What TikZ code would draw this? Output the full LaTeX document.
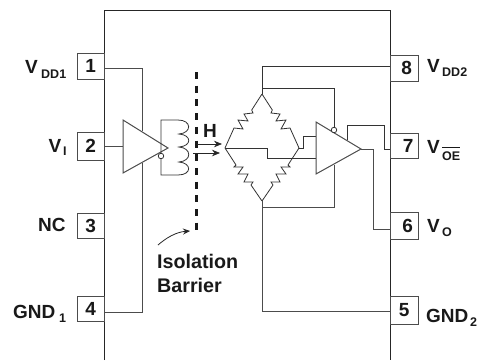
\documentclass[tikz,border=0pt]{standalone}
\usepackage{fontspec}
\setmainfont{Liberation Sans}
\usetikzlibrary{arrows.meta}
\tikzset{
  x=1pt,y=-1pt,
  wire/.style={draw=black!70,line width=1pt},
  thin wire/.style={draw=black!80,line width=0.8pt},
  pinbox/.style={draw=black!70,line width=0.9pt,minimum width=27.5pt,minimum height=26pt,inner sep=0pt,font=\bfseries\fontsize{19}{19}\selectfont,text=black!90},
  lab/.style={font=\bfseries\fontsize{19}{19}\selectfont,text=black!90,inner sep=0pt},
  biglab/.style={font=\bfseries\fontsize{19.7}{20}\selectfont,text=black!90,inner sep=0pt},
  sub/.style={font=\bfseries\fontsize{12.5}{13}\selectfont,text=black!90,inner sep=0pt},
  amp/.style={draw=black!70,line width=1pt,fill=white},
  bubble/.style={circle,draw=black!80,line width=0.8pt,fill=white,minimum size=5.5pt,inner sep=0pt},
  arr/.style={draw=black!85,line width=0.8pt,-{Stealth[length=8pt,width=6.5pt]}}
}
\begin{document}
\begin{tikzpicture}
\useasboundingbox (0,0) rectangle (479,360);
\fill[white] (0,0) rectangle (479,360);
% body (open at the bottom edge)
\coordinate (tl) at (104.5,10.5); \coordinate (tr) at (390,10.5);
\coordinate (bl) at (104.5,360); \coordinate (br) at (390,360);
\draw[draw=black!85,line width=0.9pt] (bl) -- (tl) -- (tr) -- (br);
% pins
\node[pinbox] (p1) at (90.7,66.3) {1};
\node[pinbox,minimum height=28pt] (p2) at (90.7,146) {2};
\node[pinbox,minimum height=25pt] (p3) at (90.7,225.5) {3};
\node[pinbox,minimum height=25pt] (p4) at (90.7,308.5) {\raisebox{-2pt}{4}};
\node[pinbox] (p8) at (404.2,68) {\hspace*{5pt}8};
\node[pinbox,minimum height=25pt] (p7) at (404.2,145.5) {\hspace*{8pt}7};
\node[pinbox,minimum height=27pt] (p6) at (404.2,225.5) {\hspace*{7pt}6};
\node[pinbox,minimum height=28pt] (p5) at (404.2,310) {\raisebox{-4pt}{5}};
% labels
\node[lab,anchor=base west] (v1) at (25,73) {V};
\node[sub,anchor=base west] (v1s) at (41,78) {DD1};
\node[lab,anchor=base west] (v2) at (48.5,152) {V};
\node[sub,anchor=base west] (v2s) at (63,155) {I};
\node[lab,anchor=base west] (nc) at (38,231) {NC};
\node[lab,anchor=base west] (gnd1) at (13,318) {GND};
\node[sub,anchor=base west] (g1s) at (59,322) {1};
\node[lab,anchor=base west] (v8) at (427,72) {V};
\node[sub,anchor=base west] (v8s) at (442,76) {DD2};
\node[lab,anchor=base west] (v7) at (427,153) {V};
\node[sub,anchor=base west] (v7s) at (442,160) {\rlap{\raisebox{12.2pt}{\rule{18pt}{0.8pt}}}OE};
\node[lab,anchor=base west] (v6) at (427,232) {V};
\node[sub,anchor=base west] (v6s) at (442,236) {O};
\node[lab,anchor=base west] (gnd2) at (426,322) {GND};
\node[sub,anchor=base west] (g2s) at (470,326) {2};
% input driver
\coordinate (a1t) at (123,120); \coordinate (a1b) at (123,173); \coordinate (a1o) at (168,148);
\coordinate (a1i) at (123,146);
\draw[wire] (p1.east |- 0,68) -- (142,68) -- (142,131);
\draw[wire] (p4.east |- 0,312) -- (142,312) -- (142,163);
\draw[wire] (p2.east |- 0,146) -- (a1i);
\draw[amp] (a1t) -- (a1o) -- (a1b) -- cycle;
% coil
\draw[thin wire] (161,153) -- (161,120) -- (178,120)
  .. controls (192,120) and (192,133) .. (179,134)
  .. controls (192,135) and (192,146) .. (179,147)
  .. controls (192,148) and (192,161) .. (179,162)
  .. controls (192,163) and (192,175) .. (178,175) -- (161,175) -- (161,159);
\node[bubble] (b1) at (161,156) {};
% barrier
\coordinate (bt) at (196.5,72); \coordinate (bb) at (196.5,230);
\draw[draw=black!90,line width=3pt,dash pattern=on 7pt off 6.7pt] (bt) -- (bb);
% H
\node[lab,anchor=base] (h) at (210,137) {H};
\coordinate (f1s) at (197,144); \coordinate (f1e) at (222,144);
\coordinate (f2s) at (193,153); \coordinate (f2e) at (220,153);
\draw[arr] (f1s) -- (f1e);
\draw[arr] (f2s) -- (f2e);
% bridge
\coordinate (T) at (262,94); \coordinate (L) at (225,148); \coordinate (R) at (299,148); \coordinate (B) at (262,201);
\draw[thin wire] (T) -- (251.7,110) -- (253,113) -- (244,114) -- (248,121) -- (238,120) -- (243,129) -- (234,128) -- (L);
\draw[thin wire] (T) -- (272.3,110) -- (271,113) -- (280,114) -- (276,121) -- (286,120) -- (281,129) -- (290,128) -- (R);
\draw[thin wire] (L) -- (236,165) -- (234,167) -- (243,167) -- (238,174) -- (248,174) -- (244,182) -- (253,182) -- (251,185) -- (B);
\draw[thin wire] (R) -- (288,165) -- (290,167) -- (281,167) -- (286,174) -- (276,174) -- (280,182) -- (271,182) -- (273,185) -- (B);
% output comparator
\coordinate (a2t) at (316,122); \coordinate (a2b) at (316,174); \coordinate (a2o) at (361,149);
\draw[thin wire] (T) -- (262,66) -- (p8.west |- 0,66);
\draw[thin wire] (L) -- (267,148) -- (267,158) -- (316,158);
\draw[thin wire] (R) -- (303,148) -- (303,136) -- (316,136);
\draw[wire] (B) -- (262,311) -- (p5.west |- 0,311);
\draw[wire] (262,207) -- (334,207) -- (334,165);
\draw[amp] (a2t) -- (a2o) -- (a2b) -- cycle;
\draw[thin wire] (262,88) -- (334,88) -- (334,127);
\node[bubble] (b2) at (334,130) {};
\draw[thin wire] (347,140) -- (347,125) -- (384,125) -- (384,149) -- (p7.west |- 0,149);
\draw[wire] (a2o) -- (373,149) -- (373,229) -- (p6.west |- 0,229);
% isolation label
\node[biglab,anchor=base west] (iso) at (157,268) {Isolation};
\node[biglab,anchor=base west] (bar) at (157,292) {Barrier};
\coordinate (ia) at (158,245); \coordinate (ib) at (190,231);
\draw[arr,-{Stealth[length=7pt,width=6pt]}] (ia) .. controls (166,238) and (176,232) .. (ib);
\end{tikzpicture}
\end{document}
